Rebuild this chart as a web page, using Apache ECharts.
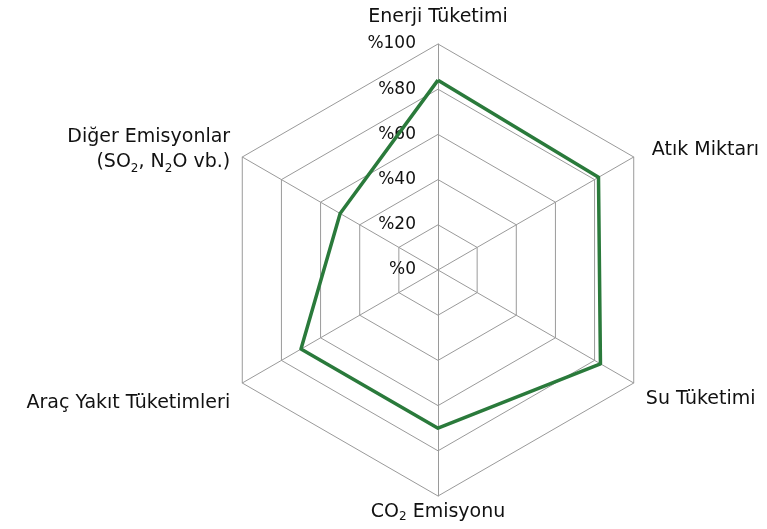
<!DOCTYPE html>
<html>
<head>
<meta charset="utf-8">
<script src="https://cdn.jsdelivr.net/npm/echarts@6/dist/echarts.min.js"></script>
<style>html,body{margin:0;padding:0;background:#fff}#c{width:767px;height:529px}</style>
</head>
<body>
<div id="c"></div>
<script>
// Categories listed clockwise from the top, as in the reference
const categories = ['Enerji Tüketimi', 'Atık Miktarı', 'Su Tüketimi', 'CO2 Emisyonu', 'Araç Yakıt Tüketimleri', 'Diğer Emisyonlar (SO2, N2O vb.)'];
const values = [84, 82, 83, 70, 70, 50];
const tickValues = [0, 20, 40, 60, 80, 100];
const tickPrefix = '%';

const FONT = 'DejaVu Sans';
const TXT = '#111111';
const nameFormats = {
  'Atık Miktarı': '{atk|Atık Miktarı}',
  'Su Tüketimi': '{su|Su Tüketimi}',
  'CO2 Emisyonu': '{co|CO}{cosub|2}{co| Emisyonu}',
  'Araç Yakıt Tüketimleri': '{arc|Araç Yakıt Tüketimleri}',
  'Diğer Emisyonlar (SO2, N2O vb.)': 'Diğer Emisyonlar\n(SO{sub|2}, N{sub|2}O vb.)'
};

// ECharts radar runs counter-clockwise: reorder so the picture reads clockwise
const order = [0].concat(categories.slice(1).map((_, i) => categories.length - 1 - i));
const indCats = order.map(i => categories[i]);
const indVals = order.map(i => values[i]);

const base = {fontFamily: FONT, fontSize: 19, color: TXT};
const chart = echarts.init(document.getElementById('c'), null, {renderer: 'canvas'});
chart.setOption({
  animation: false,
  backgroundColor: '#ffffff',
  radar: {
    center: [438, 270],
    radius: 226,
    startAngle: 90,
    splitNumber: 5,
    shape: 'polygon',
    nameGap: 14,
    indicator: indCats.map(c => ({name: c, min: tickValues[0], max: tickValues[tickValues.length - 1]})),
    axisName: {
      color: TXT,
      fontFamily: FONT,
      fontSize: 19,
      lineHeight: 25,
      formatter: (n) => nameFormats[n] || n,
      rich: {
        sub: {fontFamily: FONT, fontSize: 12, color: TXT, verticalAlign: 'bottom', padding: [9, 0, 0, 0]},
        atk: Object.assign({lineHeight: 25, padding: [0, 0, 0, 6]}, base),
        su: Object.assign({lineHeight: 25, padding: [18, 0, 0, 0]}, base),
        arc: Object.assign({lineHeight: 25, padding: [26, 0, 0, 0]}, base),
        co: Object.assign({lineHeight: 4}, base),
        cosub: {fontFamily: FONT, fontSize: 12, color: TXT, lineHeight: 4, verticalAlign: 'top', padding: [1, 0, 0, 0]}
      }
    },
    splitLine: {lineStyle: {color: '#9a9a9a', width: 1}},
    splitArea: {show: false},
    axisLine: {lineStyle: {color: '#9a9a9a', width: 1}},
    axisLabel: {show: false}
  },
  grid: {left: 438, top: 44, width: 1, height: 226, containLabel: false},
  xAxis: {type: 'value', show: false},
  yAxis: {
    type: 'value',
    min: tickValues[0],
    max: tickValues[tickValues.length - 1],
    interval: tickValues[1] - tickValues[0],
    axisLine: {show: false},
    axisTick: {show: false},
    splitLine: {show: false},
    axisLabel: {
      margin: 22,
      color: TXT,
      fontFamily: FONT,
      fontSize: 17,
      formatter: v => tickPrefix + v
    }
  },
  series: [{
    type: 'radar',
    symbol: 'none',
    lineStyle: {color: '#2a7a3b', width: 3.5},
    itemStyle: {color: '#2a7a3b'},
    data: [{value: indVals}]
  }]
});
</script>
</body>
</html>
